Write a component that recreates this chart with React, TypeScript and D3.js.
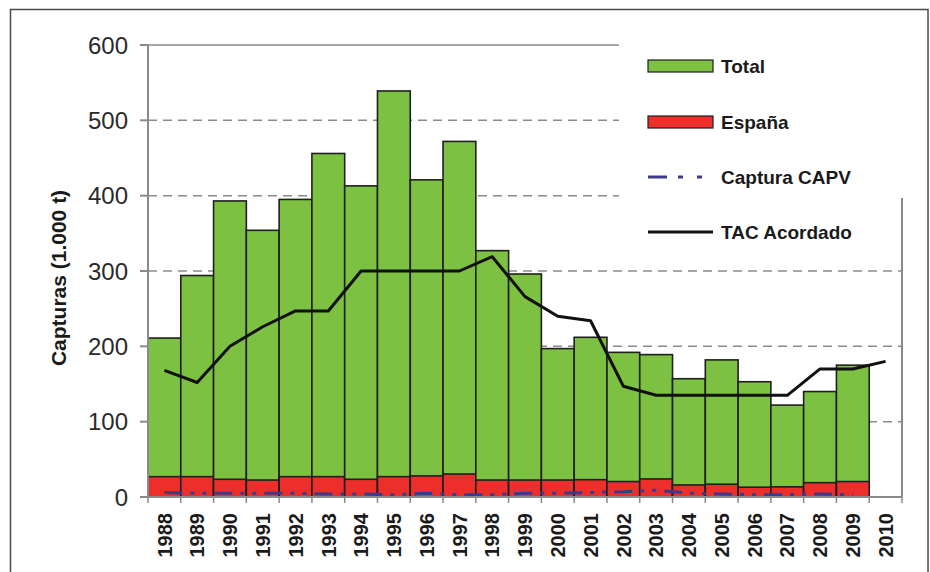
import React from 'react';
import * as d3 from 'd3';

const years = ['1988','1989','1990','1991','1992','1993','1994','1995','1996','1997','1998','1999','2000','2001','2002','2003','2004','2005','2006','2007','2008','2009','2010'];
const barYears = years.slice(0, 22);
const total = [211, 294, 393, 354, 395, 456, 413, 539, 421, 472, 327, 296, 197, 212, 192, 189, 157, 182, 153, 122, 140, 175];
const espana = [27, 27, 23.5, 22.5, 27, 27, 23.5, 27, 28, 30.5, 22.5, 22.5, 22.5, 23, 20.5, 24, 16, 17, 13, 13.5, 19, 20.5];
const capv = [6, 5, 5, 5, 5, 4, 4, 3, 5, 3, 3, 5, 5, 6, 7, 9, 5, 4, 3, 3, 4, 3];
const tac = [168, 152, 200, 226, 247, 247, 300, 300, 300, 300, 319, 266, 240, 234, 147, 135, 135, 135, 135, 135, 170, 170, 180];
const yTicks = [0, 100, 200, 300, 400, 500, 600];
const legendItems = ['Total', 'España', 'Captura CAPV', 'TAC Acordado'];

const GREEN = '#7cc142';
const RED = '#ec2f2b';
const PURPLE = '#3b3a8c';
const OUTLINE = '#1f1f1f';
const FONT = '"Liberation Sans", Arial, sans-serif';

export default function App() {
  const W = 930, H = 572;
  const left = 148, right = 902, top = 45, bottom = 497;
  const x = d3.scaleBand<string>().domain(years).range([left, right]).padding(0);
  const y = d3.scaleLinear().domain([0, 600]).range([bottom, top]);
  const bw = x.bandwidth();
  const cx = (yr: string) => (x(yr) as number) + bw / 2;

  const line = d3.line<[string, number]>().x(d => cx(d[0])).y(d => y(d[1]));
  const tacPath = line(years.map((yr, i) => [yr, tac[i]] as [string, number])) || '';
  const capvPath = line(barYears.map((yr, i) => [yr, capv[i]] as [string, number])) || '';

  const legX = 648, legW = 65, textX = 721;
  const legY = [66, 122, 177, 232];

  return (
    <div style={{ position: 'fixed', left: 0, top: 0 }}>
      <svg width={W} height={H} style={{ display: 'block', background: '#fff' }}>
        <rect x={0} y={0} width={W} height={H} fill="#fff" />
        <rect x={10.5} y={9.5} width={917.5} height={600} fill="#fff" stroke="#4a4a4a" strokeWidth={1.5} />

        {/* gridlines */}
        {yTicks.filter(t => t > 0).map(t => (
          <line key={'g' + t} x1={left} x2={right} y1={y(t)} y2={y(t)}
            stroke="#8a8a8a" strokeWidth={1.5}
            strokeDasharray={t === 600 ? undefined : '9 6'} />
        ))}

        {/* bars */}
        {barYears.map((yr, i) => (
          <g key={'b' + yr}>
            <rect x={x(yr)} y={y(total[i])} width={bw} height={y(0) - y(total[i])}
              fill={GREEN} stroke={OUTLINE} strokeWidth={1.6} />
            <rect x={x(yr)} y={y(espana[i])} width={bw} height={y(0) - y(espana[i])}
              fill={RED} stroke={OUTLINE} strokeWidth={1.6} />
          </g>
        ))}

        {/* CAPV line */}
        <path d={capvPath} fill="none" stroke={PURPLE} strokeWidth={3} strokeDasharray="18 8 4 8 4 8" />

        {/* TAC line */}
        <path d={tacPath} fill="none" stroke="#111" strokeWidth={3} strokeLinejoin="round" />

        {/* axes */}
        <line x1={left} x2={left} y1={top} y2={bottom} stroke="#8a8a8a" strokeWidth={2} />
        <line x1={left - 8} x2={right} y1={bottom} y2={bottom} stroke="#8a8a8a" strokeWidth={2} />
        {yTicks.map(t => (
          <g key={'yt' + t}>
            <line x1={left - 8} x2={left} y1={y(t)} y2={y(t)} stroke="#8a8a8a" strokeWidth={2} />
            <text x={128} y={y(t)} dy="0.36em" textAnchor="end" fontFamily={FONT}
              fontSize={24} fill="#2a2a2a">{t}</text>
          </g>
        ))}
        {years.concat(['end']).map((yr, i) => {
          const xx = left + i * bw;
          return <line key={'xt' + i} x1={xx} x2={xx} y1={bottom} y2={bottom + 6} stroke="#8a8a8a" strokeWidth={1.5} />;
        })}
        {years.map(yr => (
          <text key={'xl' + yr} transform={`translate(${cx(yr)},${513}) rotate(-90)`}
            textAnchor="end" dy="0.36em" fontFamily={FONT} fontSize={20} fontWeight="bold" fill="#1a1a1a">{yr}</text>
        ))}

        {/* y title */}
        <text transform={`translate(${58},${278}) rotate(-90)`} textAnchor="middle" dy="0.36em"
          fontFamily={FONT} fontSize={21} fontWeight="bold" fill="#1a1a1a">Capturas (1.000 t)</text>

        {/* legend */}
        <rect x={619} y={30} width={290} height={233} fill="#fff" />
        <line x1={right} x2={right} y1={198} y2={bottom} stroke="#8a8a8a" strokeWidth={2} />
        <rect x={legX} y={legY[0] - 6} width={legW} height={12} fill={GREEN} stroke={OUTLINE} strokeWidth={1.2} />
        <rect x={legX} y={legY[1] - 6} width={legW} height={12} fill={RED} stroke={OUTLINE} strokeWidth={1.2} />
        <line x1={legX} x2={legX + legW} y1={legY[2]} y2={legY[2]} stroke={PURPLE} strokeWidth={3} strokeDasharray="19 11 5 14 5 20" />
        <line x1={legX} x2={legX + legW} y1={legY[3]} y2={legY[3]} stroke="#111" strokeWidth={3} />
        {legendItems.map((t, i) => (
          <text key={'lt' + i} x={textX} y={legY[i]} dy="0.36em" fontFamily={FONT} fontSize={19}
            fontWeight="bold" fill="#1a1a1a">{t}</text>
        ))}
      </svg>
    </div>
  );
}
